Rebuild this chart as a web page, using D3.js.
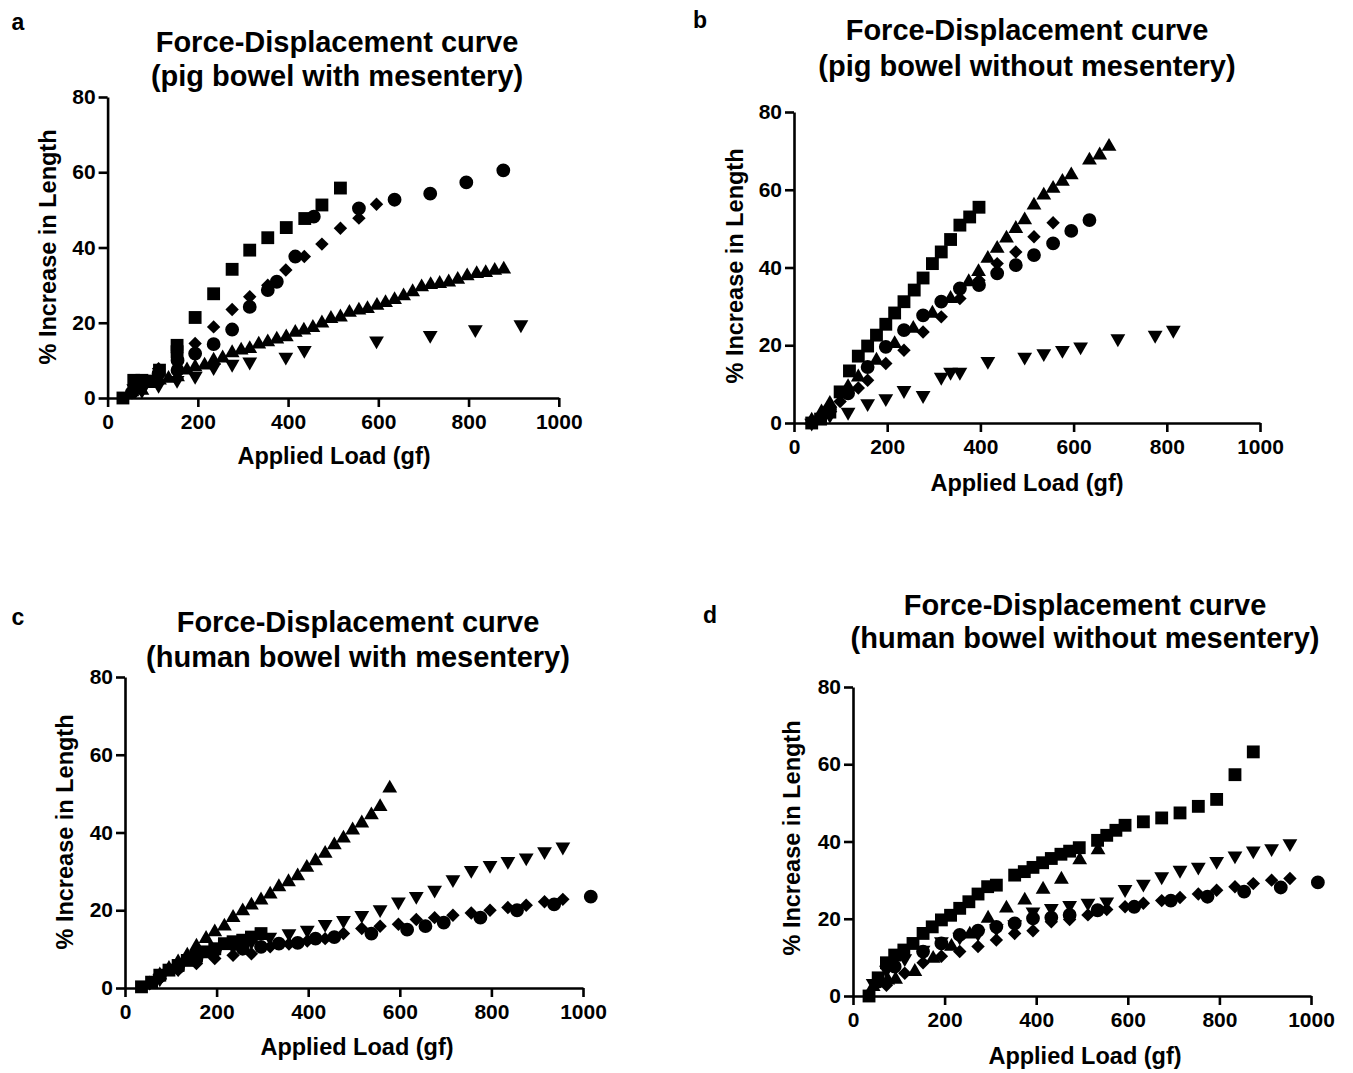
<!DOCTYPE html>
<html lang="en">
<head>
<meta charset="UTF-8">
<title>Force-Displacement curves</title>
<script src="https://cdn.jsdelivr.net/npm/d3@7"></script>
<style>
  body { margin: 0; background: #fff; }
  text { font-family: "Liberation Sans", Arial, sans-serif; font-weight: bold; fill: #000; }
</style>
</head>
<body>
<svg id="fig" width="1353" height="1073"></svg>
<script>
// ticks
var xTicks = [0, 200, 400, 600, 800, 1000];
var yTicks = [0, 20, 40, 60, 80];

// panel a: pig bowel with mesentery  [load gf, % increase]
var aSq = [[34,0],[58,4.7],[76,4.7],[91,4.5],[115,7.4],[154,12.3],[154,14],[194,21.4],[235,27.7],[276,34.2],[315,39.3],[355,42.6],[396,45.3],[437,47.7],[475,51.3],[516,55.8]];
var aCi = [[54,1.5],[113,6.5],[155,7.4],[155,10],[194,11.8],[235,14.3],[276,18.2],[315,24.2],[355,28.7],[375,30.9],[416,37.6],[457,48.2],[557,50.4],[636,52.7],[715,54.3],[795,57.3],[877,60.5]];
var aDi = [[54,1.6],[113,7.8],[154,5.2],[154,12],[194,14.5],[235,18.9],[276,23.5],[315,26.9],[355,30],[395,34],[436,37.6],[475,40.9],[516,45.1],[557,47.8],[596,51.5]];
var aUp = [[54,1.6],[76,2.0],[95,3.8],[115,4.7],[135,5.2],[155,5.6],[176,7.4],[194,8.2],[215,8.7],[235,10.0],[255,10.6],[276,12.0],[296,12.7],[315,13.1],[335,14.3],[355,14.9],[375,15.6],[396,16.2],[416,17.4],[435,18.0],[455,18.7],[475,19.9],[495,21.1],[516,21.5],[536,22.7],[557,23.3],[576,23.7],[597,24.6],[616,25.3],[636,26.1],[656,27.1],[676,28.2],[696,29.5],[716,30.1],[736,30.4],[756,30.8],[776,31.5],[797,32.4],[818,33.0],[838,33.3],[858,33.9],[878,34.2]];
var aDn = [[58,2.5],[76,2],[113,3.4],[154,4.7],[194,5.8],[235,8.1],[276,9],[315,9.6],[395,10.9],[436,12.7],[596,15.2],[715,16.7],[815,18.2],[916,19.5]];

// panel b: pig bowel without mesentery
var bSq = [[38,0],[57,1.0],[77,2.8],[99,8],[119,13.4],[138,17.2],[158,19.8],[177,22.6],[197,25.4],[216,28.3],[236,31.2],[258,34.2],[277,37.3],[297,41],[316,44],[336,47.2],[356,50.9],[377,53],[397,55.5]];
var bCi = [[77,3.5],[116,7.6],[158,14.4],[197,19.6],[236,23.9],[277,27.7],[316,31.2],[356,34.6],[397,35.5],[436,38.5],[476,40.6],[515,43.2],[556,46.2],[595,49.4],[634,52.2]];
var bDi = [[57,1.5],[99,5.5],[138,9],[158,11],[197,15.3],[236,18.7],[277,23.4],[316,27.3],[356,32],[397,36.7],[436,41],[476,44],[515,47.9],[556,51.5]];
var bUp = [[38,0.7],[59,2.8],[77,5],[116,9.3],[138,11.8],[177,16.1],[216,20.4],[256,24.3],[297,28.2],[336,32],[375,36.3],[396,38.9],[416,42.3],[436,44.9],[456,47.5],[476,50],[495,52.2],[515,56],[536,58.6],[556,60.3],[576,62.1],[595,63.8],[634,67.6],[656,68.9],[676,71.1]];
var bDn = [[38,0],[77,2],[116,2.8],[158,5],[197,6.3],[236,8.4],[277,7.1],[316,11.8],[336,13.1],[356,13.1],[416,15.9],[495,17],[536,17.9],[576,18.7],[615,19.6],[695,21.7],[775,22.6],[814,23.9]];

// panel c: human bowel with mesentery
var cSq = [[36,0.3],[58,1.5],[76,3.3],[96,4.6],[116,5.8],[136,7.1],[156,8.2],[177,9.3],[196,10.1],[217,11.4],[236,11.9],[257,12.3],[276,13.1],[297,14.0]];
var cCi = [[76,3],[116,5.4],[156,7.6],[196,9.7],[257,10.1],[297,10.6],[336,11.4],[377,11.6],[416,12.7],[457,13.1],[538,14],[616,15],[656,15.9],[696,16.8],[776,18.1],[856,20],[937,21.5],[1017,23.5]];
var cDi = [[54,1.1],[76,2.4],[116,4.6],[156,6.3],[196,7.6],[236,8.4],[276,8.8],[317,10.6],[358,11.3],[398,12.1],[437,12.7],[477,14],[517,15.3],[557,15.9],[597,16.4],[636,17.6],[676,18.1],[716,18.7],[756,19.3],[797,20],[836,20.7],[876,21.3],[916,22.2],[956,22.8]];
var cUp = [[54,1.0],[76,3.3],[96,5],[116,6.7],[136,8.4],[156,10.7],[177,12.7],[196,14.4],[217,15.9],[236,18.1],[257,19.8],[276,21.3],[297,22.6],[317,24.1],[336,26],[357,27.3],[377,28.8],[397,31],[416,32.7],[437,34.6],[457,36.8],[477,38.5],[497,40.6],[517,42.4],[538,44.5],[557,46.6],[578,51.4]];
var cDn = [[76,2.4],[116,5],[156,7.1],[196,8.8],[236,10.6],[276,11.9],[316,13.1],[358,14],[398,14.9],[437,16.4],[477,17.4],[517,18.7],[557,20.2],[597,22.2],[636,23.6],[676,25.2],[716,27.9],[756,30.3],[797,31.6],[836,32.6],[876,33.5],[916,35.1],[956,36.3]];

// panel d: human bowel without mesentery
var dSq = [[35,0],[55,4.7],[73,8.6],[91,10.6],[111,11.9],[131,13.6],[153,16.2],[173,17.9],[193,19.7],[213,20.9],[233,22.7],[253,24.4],[273,26.4],[294,28.3],[313,28.7],[353,31.3],[374,32.2],[393,33.3],[414,34.5],[433,35.6],[454,36.7],[473,37.5],[494,38.4],[534,40.3],[554,41.6],[574,42.9],[594,44.2],[634,45.1],[674,46.1],[714,47.4],[754,49.1],[794,50.9],[834,57.3],[874,63.2]];
var dCi = [[55,3.7],[91,7.6],[153,11.5],[193,13.6],[233,15.8],[273,16.9],[313,17.9],[353,18.8],[393,20.1],[433,20.3],[473,21],[534,22.2],[614,23.1],[694,24.7],[774,25.7],[854,27],[934,28.1],[1015,29.4]];
var dDi = [[73,2.8],[113,5.9],[153,8.6],[193,10.3],[233,11.5],[273,12.8],[313,14.5],[353,16.2],[393,16.9],[433,19.2],[473,19.8],[513,21],[554,22.4],[594,23.1],[634,24],[674,24.7],[714,25.5],[754,26.4],[794,27.4],[834,28.3],[874,29.1],[914,30],[954,30.4]];
var dUp = [[44,2.4],[76,4.1],[93,4.3],[135,6.3],[175,9.7],[215,12.8],[255,16],[295,20.1],[335,22.7],[375,24.8],[415,27.6],[455,30.2],[495,35.2],[535,37.8]];
var dDn = [[44,3.3],[73,6.7],[113,9.7],[153,11.9],[193,14.1],[233,15.3],[273,16.2],[313,17.5],[353,18.5],[393,21.8],[433,22.7],[473,23.5],[513,24.1],[554,24.4],[594,27.6],[634,29],[674,30.9],[714,32.6],[754,33.4],[794,34.9],[834,36.3],[874,37.6],[914,38.2],[954,39.5]];

var svg = d3.select("#fig");

// marker shapes
var shapes = {
  sq: { type: d3.symbolSquare, size: 165, rot: 0 },
  ci: { type: d3.symbolCircle, size: 150, rot: 0 },
  di: { type: d3.symbolSquare, size: 90, rot: 45 },
  up: { type: d3.symbolTriangle, size: 95, rot: 0 },
  dn: { type: d3.symbolTriangle, size: 95, rot: 180 }
};

var panels = [
  { letter: "a", lp: [18, 22], title: ["Force-Displacement curve", "(pig bowel with mesentery)"], tx: 337, ty: [42, 76],
    xr: [107.6, 558.8], yr: [398, 97], yl: [48, 247], xl: [334, 456],
    series: [["up", aUp], ["dn", aDn], ["di", aDi], ["ci", aCi], ["sq", aSq]] },
  { letter: "b", lp: [700, 20], title: ["Force-Displacement curve", "(pig bowel without mesentery)"], tx: 1027, ty: [30, 66],
    xr: [794, 1260], yr: [423, 112], yl: [735, 266], xl: [1027, 483],
    series: [["dn", bDn], ["up", bUp], ["di", bDi], ["ci", bCi], ["sq", bSq]] },
  { letter: "c", lp: [18, 617], title: ["Force-Displacement curve", "(human bowel with mesentery)"], tx: 358, ty: [622, 657],
    xr: [125, 583], yr: [988, 677], yl: [65, 832], xl: [357, 1047],
    series: [["sq", cSq], ["up", cUp], ["dn", cDn], ["di", cDi], ["ci", cCi]] },
  { letter: "d", lp: [710, 615], title: ["Force-Displacement curve", "(human bowel without mesentery)"], tx: 1085, ty: [605, 638],
    xr: [853, 1311], yr: [996, 687], yl: [792, 838], xl: [1085, 1056],
    series: [["up", dUp], ["dn", dDn], ["di", dDi], ["ci", dCi], ["sq", dSq]] }
];

panels.forEach(function(p) {
  var x = d3.scaleLinear().domain([0, 1000]).range(p.xr);
  var y = d3.scaleLinear().domain([0, 80]).range(p.yr);

  svg.append("text").attr("x", p.lp[0]).attr("y", p.lp[1]).attr("dy", "0.35em")
    .attr("text-anchor", "middle").style("font-size", "23px").text(p.letter);

  p.title.forEach(function(t, i) {
    svg.append("text").attr("x", p.tx).attr("y", p.ty[i]).attr("dy", "0.35em")
      .attr("text-anchor", "middle").style("font-size", "29px").text(t);
  });

  // axes
  var gx = svg.append("g").attr("transform", "translate(0," + y(0) + ")")
    .call(d3.axisBottom(x).tickValues(xTicks).tickFormat(d3.format("d"))
      .tickSize(9).tickSizeOuter(0).tickPadding(7));
  var gy = svg.append("g").attr("transform", "translate(" + x(0) + ",0)")
    .call(d3.axisLeft(y).tickValues(yTicks).tickFormat(d3.format("d"))
      .tickSize(9).tickSizeOuter(0).tickPadding(3));
  [gx, gy].forEach(function(g) {
    g.select(".domain").attr("stroke", "#000").attr("stroke-width", 2.6);
    g.selectAll(".tick line").attr("stroke", "#000").attr("stroke-width", 2.6);
    g.selectAll(".tick text").attr("fill", "#000").style("font-size", "21px")
      .style("font-family", "'Liberation Sans', Arial, sans-serif").style("font-weight", "bold");
  });

  svg.append("text").attr("x", p.xl[0]).attr("y", p.xl[1]).attr("dy", "0.35em")
    .attr("text-anchor", "middle").style("font-size", "23.5px").text("Applied Load (gf)");
  svg.append("text").attr("transform", "translate(" + p.yl[0] + "," + p.yl[1] + ") rotate(-90)")
    .attr("dy", "0.35em").attr("text-anchor", "middle").style("font-size", "23.5px")
    .text("% Increase in Length");

  // markers
  p.series.forEach(function(s) {
    var sh = shapes[s[0]];
    svg.append("g").selectAll("path")
      .data(s[1])
      .enter()
      .append("path")
      .attr("d", d3.symbol().type(sh.type).size(sh.size))
      .attr("transform", function(d) {
        return "translate(" + x(d[0]) + "," + y(d[1]) + ") rotate(" + sh.rot + ")";
      })
      .attr("fill", "#000");
  });
});
</script>
</body>
</html>
